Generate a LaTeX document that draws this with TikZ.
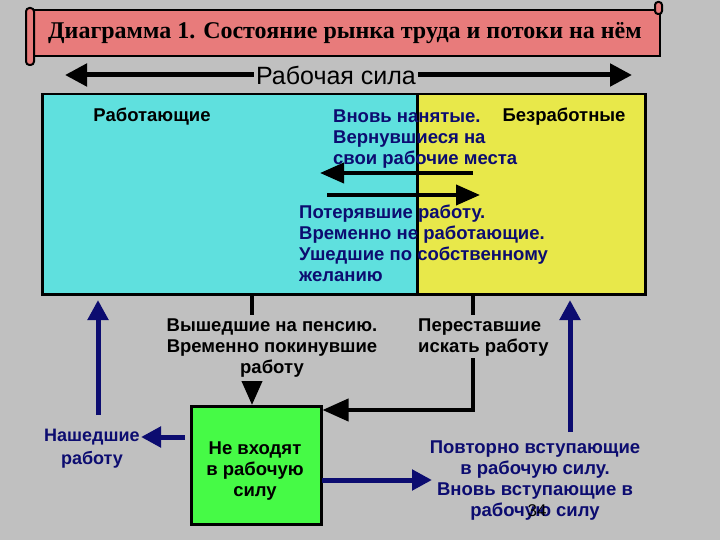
\documentclass[tikz,border=0pt]{standalone}
\usepackage{fontspec}
\setmainfont{Liberation Sans}
\newfontfamily\titlefont{Liberation Serif}
\usepackage{tikz}
\usetikzlibrary{arrows.meta,positioning}

\definecolor{bggray}{RGB}{192,192,192}
\definecolor{empcyan}{RGB}{95,224,222}
\definecolor{unempyellow}{RGB}{232,232,74}
\definecolor{nilfgreen}{RGB}{70,250,70}
\definecolor{bannerpink}{RGB}{232,123,123}
\definecolor{flowblue}{RGB}{12,12,112}

\tikzset{
  boxpart/.style={draw, line width=2.5pt, inner sep=0pt, anchor=north west},
  lbl/.style={font=\bfseries\fontsize{18.5}{21}\selectfont, inner sep=0pt},
  bluelbl/.style={lbl, text=flowblue},
  blackflow/.style={line width=4pt, -{Triangle[length=24pt, width=20pt]}},
  blueflow/.style={line width=5pt, flowblue, -{Triangle[length=20pt, width=20pt]}},
  forcearrow/.style={line width=5pt, -{Triangle[length=22pt, width=22pt]}}
}

\begin{document}
\begin{tikzpicture}[x=1pt, y=-1pt]
    \fill[bggray] (0,0) rectangle (720,540);
    \useasboundingbox (0,0) rectangle (720,540);

    % banner with rolled ends
    \filldraw[fill=bannerpink, line width=2pt] (32,10) rectangle (660,56);
    \filldraw[fill=bannerpink, line width=2pt, rounded corners=3.5pt] (26,8) rectangle (34,65);
    \filldraw[fill=bannerpink, line width=2pt, rounded corners=3pt] (655,2) rectangle (662,14);
    \node[font=\titlefont\bfseries\fontsize{24}{26}\selectfont, inner sep=0pt] (title) at (345,33)
      {Диаграмма 1. Состояние рынка труда и потоки на нём};

    % labour force
    \node[font=\fontsize{25}{27}\selectfont, fill=bggray, inner sep=2pt] (lforce) at (336,75) {Рабочая сила};
    \coordinate (lfL) at (65,75);
    \coordinate (lfR) at (632,75);
    \draw[forcearrow] (lforce) -- (lfL);
    \draw[forcearrow] (lforce) -- (lfR);

    % employed / unemployed
    \node[boxpart, fill=empcyan, minimum width=375pt, minimum height=200pt] (employed) at (41,93) {};
    \node[boxpart, fill=unempyellow, minimum width=228pt, minimum height=200pt] (unemployed) at (416,93) {};
    \node[lbl] (emplbl) at (152,117) {Работающие};
    \node[lbl] (unemplbl) at (564,117) {Безработные};

    \node[bluelbl, align=left, anchor=north west] (hired) at (333,109.5)
      {Вновь нанятые.\\Вернувшиеся на\\свои рабочие места};
    \coordinate (hireA) at (473,173);
    \coordinate (hireB) at (320,173);
    \coordinate (lostA) at (327,195);
    \coordinate (lostB) at (480,195);
    \draw[blackflow] (hireA) -- (hireB);
    \draw[blackflow] (lostA) -- (lostB);
    \node[bluelbl, align=left, anchor=north west] (lost) at (299,205)
      {Потерявшие работу.\\Временно не работающие.\\Ушедшие по собственному\\желанию};

    % not in labour force
    \node[boxpart, fill=nilfgreen, minimum width=130pt, minimum height=118pt] (nilf) at (190,405) {};
    \node[lbl, align=center] (nilflbl) at (255,471) {Не входят\\в рабочую\\силу};

    \node[lbl, align=center] (retired) at (272,348)
      {Вышедшие на пенсию.\\Временно покинувшие\\работу};
    \coordinate (retA) at (252,293);
    \coordinate (retB) at (252,315);
    \coordinate (retC) at (252,381);
    \draw[line width=4pt] (retA) -- (retB);
    \draw[line width=4pt, -{Triangle[length=24pt, width=20pt]}] (retC) -- (nilf.north -| retC);

    \node[lbl, align=left, anchor=west] (stopped) at (418,338) {Переставшие\\искать работу};
    \coordinate (stopA) at (473,293);
    \coordinate (stopB) at (473,315);
    \coordinate (stopC) at (473,358);
    \coordinate (stopD) at (473,410);
    \draw[line width=4pt] (stopA) -- (stopB);
    \draw[line width=4pt, -{Triangle[length=26pt, width=22pt]}] (stopC) -- (stopD) -- (nilf.east |- stopD);

    % flows out of the green box
    \node[bluelbl, align=center, font=\bfseries\fontsize{18}{23}\selectfont] (found) at (92,449) {Нашедшие\\работу};
    \coordinate (foundA) at (185,437);
    \coordinate (foundB) at (141,437);
    \coordinate (upLA) at (98,415);
    \coordinate (upLB) at (98,300);
    \draw[blueflow] (foundA) -- (foundB);
    \draw[blueflow] (upLA) -- (upLB);

    \node[bluelbl, align=center] (reentry) at (535,481)
      {Повторно вступающие\\в рабочую силу.\\Вновь вступающие в\\рабочую силу};
    \coordinate (entA) at (322,480);
    \coordinate (entB) at (432,480);
    \coordinate (upRA) at (570,432);
    \coordinate (upRB) at (570,300);
    \draw[blueflow] (entA) -- (entB);
    \draw[blueflow] (upRA) -- (upRB);

    \node[font=\fontsize{17}{18}\selectfont, inner sep=0pt] (slideno) at (537,511) {34};
\end{tikzpicture}
\end{document}
